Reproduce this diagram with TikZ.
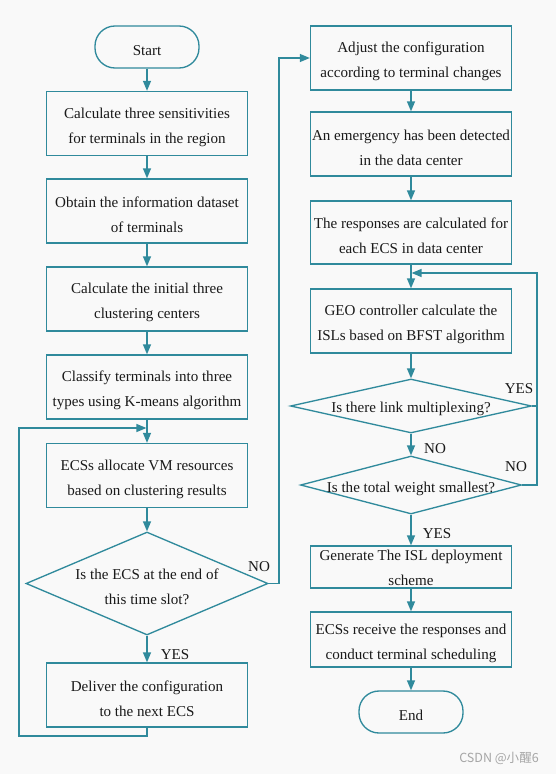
\documentclass[tikz,border=0pt]{standalone}
\usepackage{fontspec}
\setmainfont{Liberation Serif}
\newfontfamily\cjkfont{Noto Sans CJK SC}
\usetikzlibrary{shapes.geometric,arrows.meta}
\definecolor{teal}{HTML}{308A9C}
\definecolor{bg}{HTML}{F9F9F9}
\definecolor{ink}{HTML}{1A1A1A}
\newcommand{\lowstrut}{\rule{0pt}{13.3pt}}
\tikzset{
  every node/.style={font=\fontsize{11.3}{18.75}\selectfont, text=ink},
  box/.style={draw=teal, line width=1pt, fill=bg, rectangle, inner sep=0pt, align=center,
              minimum width=150.75pt, minimum height=48pt},
  plainbox/.style={draw=teal, line width=1pt, fill=bg, rectangle, inner sep=0pt,
              minimum width=150.75pt, minimum height=31.5pt},
  term/.style={draw=teal, line width=1pt, fill=bg, rectangle, rounded corners=15pt, inner sep=0pt,
              minimum width=78pt, minimum height=31.5pt, execute at begin node=\lowstrut},
  dia/.style={draw=teal, line width=1pt, diamond, inner sep=0pt},
  txt/.style={align=center, inner sep=0pt},
  flow/.style={draw=teal, line width=1pt, -{Triangle[length=7.5pt,width=6pt]}},
  line/.style={draw=teal, line width=1pt},
  lbl/.style={inner sep=0pt}
}
\begin{document}
\begin{tikzpicture}[x=0.75pt,y=-0.75pt]
\fill[bg] (0,0) rectangle (556,774);
\useasboundingbox (0,0) rectangle (556,774);
% left column
\node[term] (start) at (147,47) {Start};
\node[box] (b1) at (147,123.5) {\lowstrut Calculate three sensitivities\\ for terminals in the region};
\node[box] (b2) at (147,211) {\lowstrut Obtain the information dataset\\ of terminals};
\node[box] (b3) at (147,299) {\lowstrut Calculate the initial three\\ clustering centers};
\node[box] (b4) at (147,387) {\lowstrut Classify terminals into three\\ types using K-means algorithm};
\node[box] (b5) at (147,475.5) {\lowstrut ECSs allocate VM resources\\ based on clustering results};
\node[dia, minimum width=181.5pt, minimum height=77.25pt] (d1) at (147,583.5) {};
\node[txt] at (d1.center) {\lowstrut Is the ECS at the end of\\ this time slot?};
\node[box] (b6) at (147,695) {\lowstrut Deliver the configuration\\ to the next ECS};
% right column
\node[box] (r1) at (411,58) {\lowstrut Adjust the configuration\\ according to terminal changes};
\node[box] (r2) at (411,144) {\lowstrut An emergency has been detected\\ in the data center};
\node[box, minimum height=47.25pt] (r3) at (411,232.5) {\lowstrut The responses are calculated for\\ each ECS in data center};
\node[box] (r4) at (411,321) {\lowstrut GEO controller calculate the\\ ISLs based on BFST algorithm};
\node[dia, minimum width=180.75pt, minimum height=40.5pt] (dr1) at (411,406) {};
\node[txt] at ([yshift=0.6pt]dr1.center) {\lowstrut Is there link multiplexing?};
\node[dia, minimum width=165.75pt, minimum height=43.5pt] (dr2) at (411,485) {};
\node[txt] at (dr2.center) {\lowstrut Is the total weight smallest?};
\node[plainbox] (r5) at (411,567) {};
\node[txt] at ([yshift=-1pt]r5.center) {Generate The ISL deployment\\ scheme};
\node[box, minimum height=41.25pt] (r6) at (411,639.5) {\lowstrut ECSs receive the responses and\\ conduct terminal scheduling};
\node[term] (end) at (411,712) {End};
% junction coordinates
\coordinate (j1) at (146.4,428);
\coordinate (j2) at (411.6,273);
% left arrows
\draw[flow] (start) -- (b1);
\draw[flow] (b1) -- (b2);
\draw[flow] (b2) -- (b3);
\draw[flow] (b3) -- (b4);
\draw[flow] (b4) -- (b5);
\draw[flow] (b5) -- (d1);
\draw[flow] (d1) -- (b6);
\node[lbl] at (175,655) {YES};
\draw[flow] (b6.south) |- (19,736) |- (j1);
\draw[flow] (d1.east) -| (279,58) -- (r1.west);
\node[lbl] at (259,567) {NO};
% right arrows
\draw[flow] (r1) -- (r2);
\draw[flow] (r2) -- (r3);
\draw[flow] (r3) -- (r4);
\draw[flow] (r4) -- (dr1);
\draw[flow] (dr1) -- (dr2);
\node[lbl] at (435,449) {NO};
\draw[flow] (dr2) -- (r5);
\node[lbl] at (437,534) {YES};
\draw[flow] (r5) -- (r6);
\draw[flow] (r6) -- (end);
\draw[line] (dr1.east) -- (537,406);
\draw[flow] (dr2.east) -| (537,273) -- (j2);
\node[lbl] at (519,389) {YES};
\node[lbl] at (516,467) {NO};
% watermark
\node[lbl, font=\cjkfont\fontsize{9.4}{11}\selectfont, text=gray!70] at (499,758) {CSDN @小醒6};
\end{tikzpicture}
\end{document}
